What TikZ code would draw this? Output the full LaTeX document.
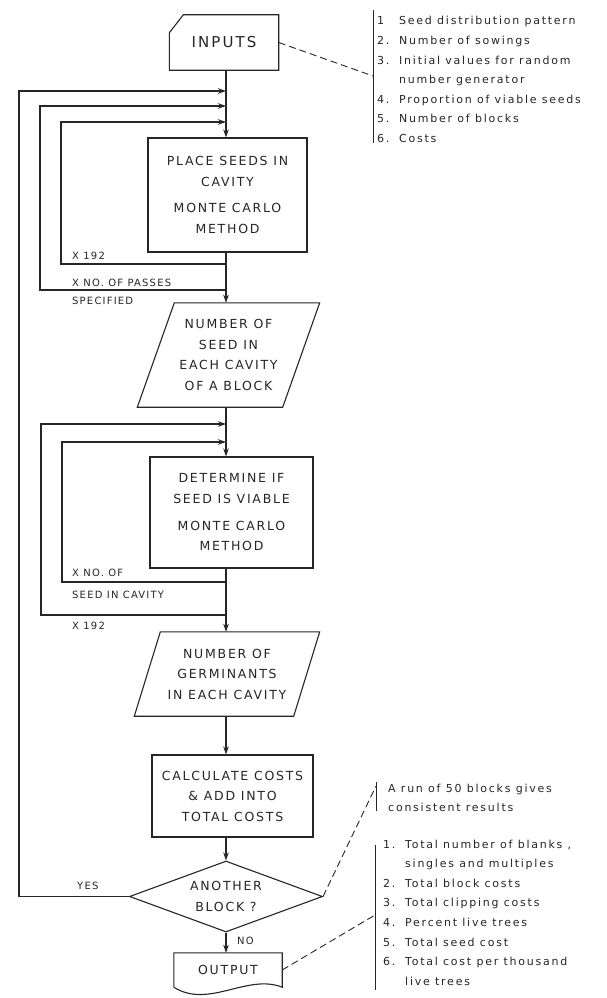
\documentclass[tikz,border=0pt]{standalone}
\usepackage{fontspec}
\setmainfont{DejaVu Sans}
\newfontfamily\fcBoxFont[LetterSpace=14]{DejaVu Sans}
\newfontfamily\fcNoteFont[LetterSpace=16]{DejaVu Sans}
\newfontfamily\fcLabFont[LetterSpace=12]{DejaVu Sans}
\newcommand\fcBox{\fcBoxFont\fontsize{12.5}{20.5}\selectfont}
\newcommand\fcNote{\fcNoteFont\fontsize{11}{19.6}\selectfont}
\newcommand\fcLab{\fcLabFont\fontsize{10}{12}\selectfont}
\usetikzlibrary{arrows.meta,shapes.geometric,calc}
\definecolor{inkc}{RGB}{38,38,38}
\begin{document}
\begin{tikzpicture}[x=1pt,y=-1pt,
 ln/.style={draw=inkc,line width=1.1pt},
 flow/.style={ln,-{Stealth[length=8pt,width=5.5pt]}},
 lead/.style={draw=inkc,line width=0.9pt,dash pattern=on 7pt off 4pt},
 bar/.style={draw=inkc,line width=1pt},
 proc/.style={ln,rectangle,align=center,inner sep=0pt,font=\fcBox,text=inkc},
 blank/.style={rectangle,align=center,inner sep=0pt,font=\fcBox,text=inkc},
 decision/.style={ln,diamond,shape aspect=2.7,align=center,inner sep=0pt,font=\fcBox,text=inkc},
 lab/.style={anchor=west,inner sep=0pt,font=\fcLab,text=inkc},
 note/.style={anchor=base west,inner sep=0pt,font=\fcNote,text=inkc}]
\useasboundingbox[fill=white] (0,0) rectangle (607,998);

% axis and loop columns
\coordinate (ax) at (226,0);
\coordinate (xo) at (19,0);
\coordinate (xm1) at (40,0);
\coordinate (xi1) at (61,0);
\coordinate (xm2) at (41,0);
\coordinate (xi2) at (62,0);

% nodes
\node[blank,minimum width=109pt,minimum height=55pt] (inputs) at (224,42.5) {\fontsize{15}{18}\selectfont INPUTS};
\draw[ln] ($(inputs.north west)+(0,18)$) -- ($(inputs.north west)+(14,0)$) -- (inputs.north east) -- (inputs.south east) -- (inputs.south west) -- cycle;

\node[proc,minimum width=159pt,minimum height=114pt] (place) at (227.5,195) {PLACE SEEDS IN\\CAVITY\\[6pt]MONTE CARLO\\METHOD};

\node[blank,minimum width=145pt,minimum height=104pt] (p1) at (228.5,355) {NUMBER OF\\SEED IN\\EACH CAVITY\\OF A BLOCK};
\draw[ln] ($(p1.north west)+(18.5,0)$) -- ($(p1.north east)+(18.5,0)$) -- ($(p1.south east)+(-18.5,0)$) -- ($(p1.south west)+(-18.5,0)$) -- cycle;

\node[proc,minimum width=163pt,minimum height=111pt] (det) at (231.5,512.5) {DETERMINE IF\\SEED IS VIABLE\\[6.5pt]MONTE CARLO\\METHOD};

\node[blank,minimum width=159pt,minimum height=84pt] (p2) at (227,674) {NUMBER OF\\GERMINANTS\\IN EACH CAVITY};
\draw[ln] ($(p2.north west)+(13,0)$) -- ($(p2.north east)+(13,0)$) -- ($(p2.south east)+(-13,0)$) -- ($(p2.south west)+(-13,0)$) -- cycle;

\node[proc,minimum width=161pt,minimum height=82pt] (calc) at (232.5,796) {CALCULATE COSTS\\\& ADD INTO\\TOTAL COSTS};

\node[decision,minimum width=193pt,minimum height=71pt] (dia) at (226,896.5) {ANOTHER\\BLOCK ?};

\node[blank,minimum width=108pt,minimum height=34pt] (output) at (228,970) {OUTPUT};
\draw[ln] (output.south west) -- (output.north west) -- (output.north east) -- (output.south east) .. controls ($(output.south east)+(-35,-14)$) and ($(output.south west)+(35,22)$) .. (output.south west);

% main flow
\draw[flow] (inputs.south -| ax) -- (place.north -| ax);
\draw[flow] (place.south -| ax) -- (p1.north -| ax);
\draw[flow] (p1.south -| ax) -- (det.north -| ax);
\draw[flow] (det.south -| ax) -- (p2.north -| ax);
\draw[flow] (p2.south -| ax) -- (calc.north -| ax);
\draw[flow] (calc.south -| ax) -- (dia.north -| ax);
\draw[flow] (dia.south -| ax) -- (output.north -| ax);

% loop junctions
\coordinate (a1) at (226,91);
\coordinate (a2) at (226,106);
\coordinate (a3) at (226,122);
\coordinate (b1) at (226,264);
\coordinate (b2) at (226,290);
\coordinate (c1) at (226,424);
\coordinate (c2) at (226,442);
\coordinate (d1) at (226,582);
\coordinate (d2) at (226,615);

\draw[flow] (b1) -- (b1 -| xi1) |- (a3);
\draw[flow] (b2) -- (b2 -| xm1) |- (a2);
\draw[flow] (dia.west) -- (dia.west -| xo) |- (a1);
\draw[flow] (d1) -- (d1 -| xi2) |- (c2);
\draw[flow] (d2) -- (d2 -| xm2) |- (c1);

% loop labels
\node[lab] (l1) at (72,256) {X 192};
\node[lab] (l2) at (72,283) {X NO. OF PASSES};
\node[lab] (l3) at (72,301) {SPECIFIED};
\node[lab] (l4) at (72,573) {X NO. OF};
\node[lab] (l5) at (72,595) {SEED IN CAVITY};
\node[lab] (l6) at (72,626) {X 192};
\node[lab] (lyes) at (77,886) {YES};
\node[lab] (lno) at (237,941) {NO};

% annotation bars
\draw[bar] (373,10) -- (373,143);
\draw[bar] (376,782) -- (376,811);
\draw[bar] (375,845) -- (375,990);
\coordinate (t1) at (373,76);
\coordinate (t2) at (376,786);
\coordinate (t3) at (375,915);
\draw[lead] (inputs.east) -- (t1);
\draw[lead] (dia.east) -- (t2);
\draw[lead] (output.east) -- (t3);

% annotations
\node[note] (n1) at (377,25) {\begin{tabular}[t]{@{}p{22pt}@{}l@{}}
1 & Seed distribution pattern\\
2. & Number of sowings\\
3. & Initial values for random\\
 & number generator\\
4. & Proportion of viable seeds\\
5. & Number of blocks\\
6. & Costs
\end{tabular}};

\node[note] (n2) at (388,792) {\fontsize{11}{19}\selectfont\begin{tabular}[t]{@{}l@{}}
A run of 50 blocks gives\\
consistent results
\end{tabular}};

\node[note] (n3) at (383,848) {\begin{tabular}[t]{@{}p{22pt}@{}l@{}}
1. & Total number of blanks ,\\
 & singles and multiples\\
2. & Total block costs\\
3. & Total clipping costs\\
4. & Percent live trees\\
5. & Total seed cost\\
6. & Total cost per thousand\\
 & live trees
\end{tabular}};
\end{tikzpicture}
\end{document}
